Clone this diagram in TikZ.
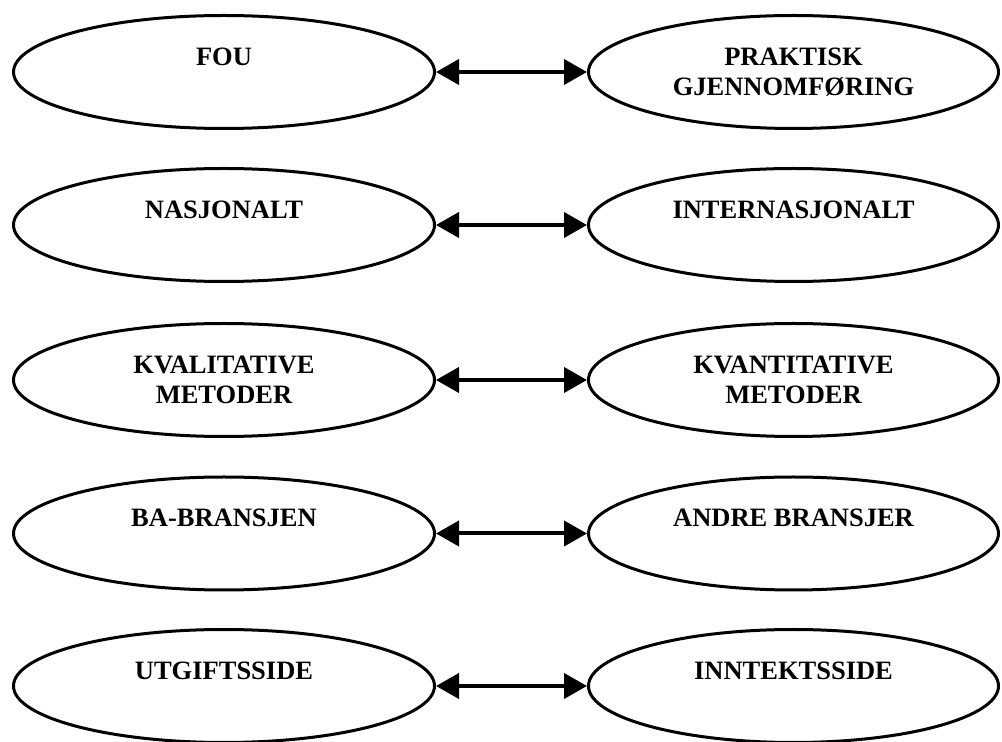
\documentclass[tikz,border=0pt]{standalone}
\usepackage{fontspec}
\setmainfont{Liberation Serif}
\usetikzlibrary{shapes.geometric,arrows.meta}

% two-line labels: first baseline on the anchor, fixed line spacing
\newcommand{\twolines}[2]{\begin{tabular}[t]{@{}c@{}}#1\\#2\end{tabular}}

\tikzset{
  oval/.style={ellipse, draw=black, line width=3pt, fill=white,
               minimum height=113pt, inner sep=0pt},
  leftoval/.style={oval, minimum width=421pt},
  rightoval/.style={oval, minimum width=410pt},
  caption/.style={anchor=base, inner sep=0pt,
                  font=\fontsize{26.5}{30}\selectfont\bfseries},
  pairlink/.style={line width=4pt,
                   {Triangle[length=23pt,width=25pt]}-{Triangle[length=23pt,width=25pt]}}
}

\begin{document}
\begin{tikzpicture}[x=1pt,y=1pt]
  \useasboundingbox (0,0) rectangle (1002,742);

  % left and right ovals of each row
  \foreach \name/\y in {a/670, b/517, c/362, d/208.5, e/56} {
    \node[leftoval]  (\name L) at (224,\y) {};
    \node[rightoval] (\name R) at (793.5,\y) {};
  }

  % labels, first baseline a little above the oval centre
  \node[caption] (aLt) at ([yshift=6.5pt]aL.center) {FOU};
  \node[caption] (aRt) at ([yshift=6.5pt]aR.center) {\twolines{PRAKTISK}{GJENNOMFØRING}};
  \node[caption] (bLt) at ([yshift=6.5pt]bL.center) {NASJONALT};
  \node[caption] (bRt) at ([yshift=6.5pt]bR.center) {INTERNASJONALT};
  \node[caption] (cLt) at ([yshift=6.5pt]cL.center) {\twolines{KVALITATIVE}{METODER}};
  \node[caption] (cRt) at ([yshift=6.5pt]cR.center) {\twolines{KVANTITATIVE}{METODER}};
  \node[caption] (dLt) at ([yshift=6.5pt]dL.center) {BA-BRANSJEN};
  \node[caption] (dRt) at ([yshift=6.5pt]dR.center) {ANDRE BRANSJER};
  \node[caption] (eLt) at ([yshift=6.5pt]eL.center) {UTGIFTSSIDE};
  \node[caption] (eRt) at ([yshift=6.5pt]eR.center) {INNTEKTSSIDE};

  % double-headed links between the pairs
  \foreach \name in {a,b,c,d,e} {
    \draw[pairlink] (\name L.east) -- (\name R.west);
  }
\end{tikzpicture}
\end{document}
